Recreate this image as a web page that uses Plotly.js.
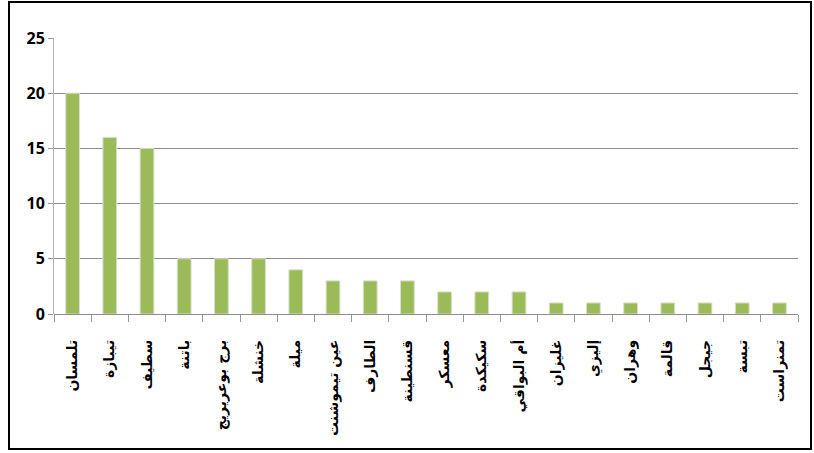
<!DOCTYPE html>
<html>
<head>
<meta charset="utf-8">
<script src="https://cdn.plot.ly/plotly-3.0.1.min.js"></script>
<style>
html,body{margin:0;padding:0;background:#fff;}
#wrap{position:relative;width:814px;height:453px;}
#chart{width:814px;height:453px;}
#frame{position:absolute;left:8px;top:1px;width:804px;height:449px;box-sizing:border-box;border:2px solid #000;pointer-events:none;}
</style>
</head>
<body>
<div id="wrap"><div id="chart"></div><div id="frame"></div></div>
<script>
const categories = ["تلمسان","تيبازة","سطيف","باتنة","برج بوعريريج","خنشلة","ميلة","عين تيموشنت","الطارف","قسنطينة","معسكر","سكيكدة","أم البواقي","غليزان","إليزي","وهران","قالمة","جيجل","تبسة","تمنراست"];
const values = [20,16,15,5,5,5,4,3,3,3,2,2,2,1,1,1,1,1,1,1];
const yTicks = [0,5,10,15,20,25];

const trace = {
  type: 'bar',
  x: categories,
  y: values,
  marker: {color: '#9BBB59', line: {color: '#d9dfd0', width: 1}},
  hoverinfo: 'x+y'
};

const layout = {
  width: 814, height: 453,
  margin: {l: 54, r: 16, t: 38, b: 139, pad: 0},
  paper_bgcolor: '#fff', plot_bgcolor: '#fff',
  bargap: 0.63,
  showlegend: false,
  xaxis: {
    type: 'category',
    tickangle: -90,
    tickson: 'boundaries',
    ticks: 'outside', ticklen: 7, tickcolor: '#999', tickwidth: 1,
    ticklabelstandoff: 22,
    showline: false,
    showgrid: false,
    tickfont: {family: 'DejaVu Sans', size: 14, color: '#000', weight: 'bold'}
  },
  yaxis: {
    range: [0, 25],
    tickvals: yTicks,
    ticktext: yTicks.map(String),
    showgrid: true, gridcolor: '#8c8c8c', gridwidth: 1,
    zeroline: true, zerolinecolor: '#8c8c8c', zerolinewidth: 1,
    showline: true, linecolor: '#b0b0b0', linewidth: 1,
    ticks: 'outside', ticklen: 5, tickcolor: '#999',
    tickfont: {family: 'Open Sans', size: 16, color: '#000', weight: 'bold'}
  }
};

Plotly.newPlot('chart', [trace], layout, {displayModeBar: false, staticPlot: true});
</script>
</body>
</html>
